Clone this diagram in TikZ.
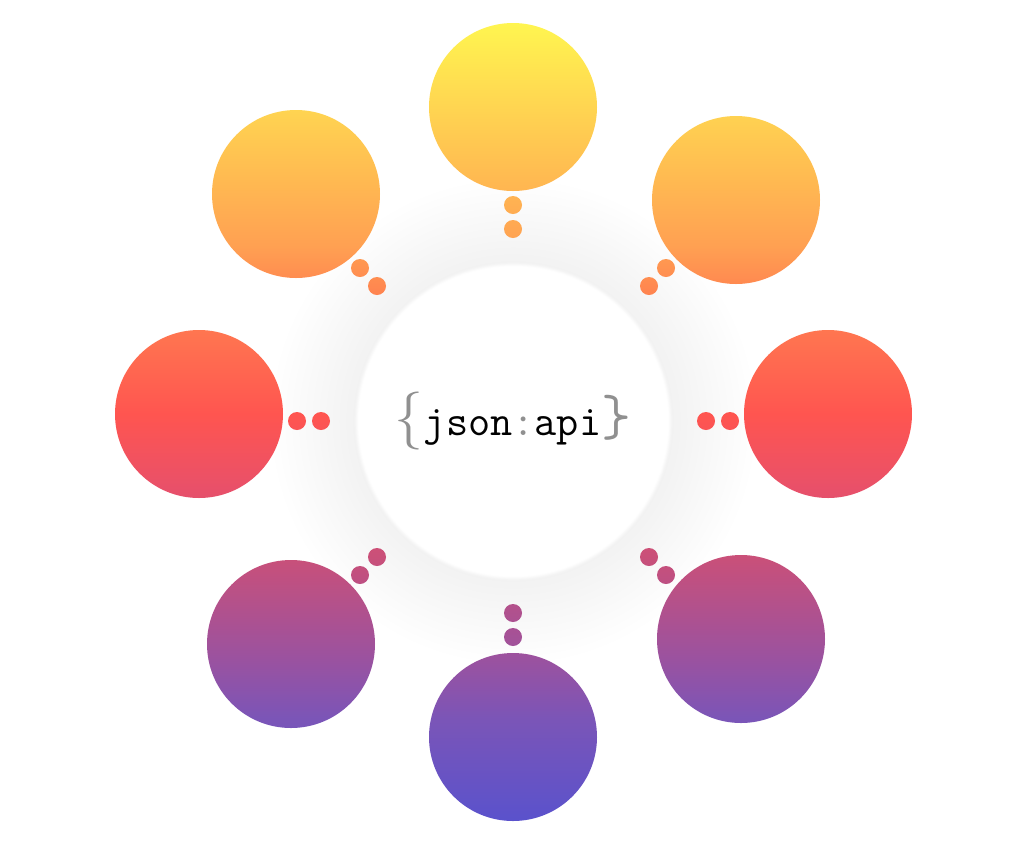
\documentclass[tikz,border=0pt]{standalone}
\usetikzlibrary{positioning}
\definecolor{logogray}{HTML}{909090}
\definecolor{tone1}{HTML}{FFF550}
\definecolor{tone2}{HTML}{FFA052}
\definecolor{tone3}{HTML}{FF8650}
\definecolor{tone4}{HTML}{FF5550}
\definecolor{tone5}{HTML}{E8506A}
\definecolor{tone6}{HTML}{C8507A}
\definecolor{tone7}{HTML}{9A52A0}
\definecolor{tone8}{HTML}{7A55B8}
\definecolor{tone9}{HTML}{5A52CC}
% colour band over the whole picture, from top to bottom
\pgfdeclareverticalshading{spectrum}{100bp}{
  color(0bp)=(tone9);
  color(25bp)=(tone9);
  color(31.3bp)=(tone8);
  color(35.1bp)=(tone7);
  color(41.4bp)=(tone6);
  color(45.7bp)=(tone5);
  color(50.5bp)=(tone4);
  color(58.3bp)=(tone3);
  color(61bp)=(tone2);
  color(75bp)=(tone1);
  color(100bp)=(tone1)}
\pgfdeclareradialshading{glow}{\pgfpoint{0bp}{0bp}}{
  color(0bp)=(white);
  color(15.8bp)=(white);
  color(16.2bp)=(black!5);
  color(25bp)=(white);
  color(50bp)=(white)}
\begin{document}
\begin{tikzpicture}[x=0.02cm,y=-0.02cm]
  \useasboundingbox (0,0) rectangle (1028,843);
  % soft shadow around the middle
  \shade[shading=glow] (513,421) circle (245);
  \node[circle,fill=white,minimum size=304*0.02cm] (core) at (513,421) {};
  \node (logo) at (513,421) {\fontsize{24.5}{30}\selectfont
    {\color{logogray}\fontsize{33}{33}\selectfont\{}\ttfamily json{\color{logogray}:}api{\color{logogray}\fontsize{33}{33}\selectfont\}}};
  % satellites and their dots
  \begin{scope}
    \clip
      (513,107) circle (84) (296,194) circle (84) (736,200) circle (84)
      (199,414) circle (84) (828,414) circle (84) (291,644) circle (84)
      (741,639) circle (84) (513,737) circle (84)
      (513,205) circle (9) (513,229) circle (9)
      (360,268) circle (9) (377,286) circle (9)
      (666,268) circle (9) (649,286) circle (9)
      (297,421) circle (9) (321,421) circle (9)
      (706,421) circle (9) (730,421) circle (9)
      (377,557) circle (9) (360,575) circle (9)
      (649,557) circle (9) (666,575) circle (9)
      (513,613) circle (9) (513,637) circle (9);
    \shade[shading=spectrum] (100,23) rectangle (930,821);
  \end{scope}
\end{tikzpicture}
\end{document}
